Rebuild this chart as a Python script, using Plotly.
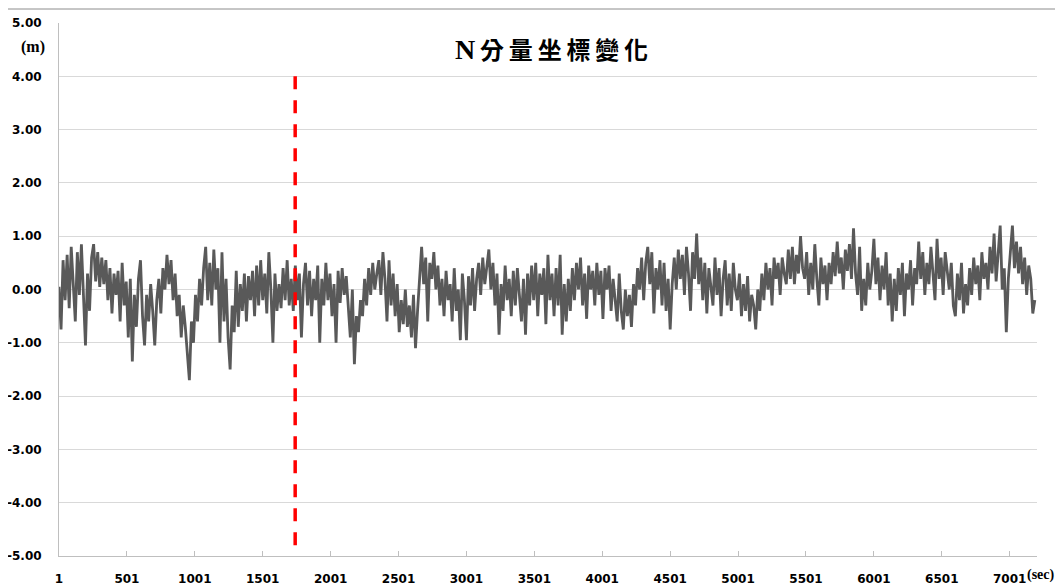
import plotly.graph_objects as go

# Sampling: one reading every 15 s starting at second 1
t_start = 1
t_step = 15

# N-component coordinate change (m) in 600 s blocks
n_0000 = [0.05, -0.75, 0.55, -0.2, 0.65, -0.35, 0.8, 0.1, -0.6, 0.7, -0.1, 0.85, 0.0,
          -1.05, 0.3, -0.4, 0.6, 0.85, 0.15, 0.7, 0.05, 0.6,
          0.1, 0.55, -0.2, 0.4, -0.45, 0.3, -0.1, 0.35, -0.6, 0.5, -0.3, 0.15, -0.9, 0.2,
          -1.35, -0.1, -0.7, 0.2]
n_0600 = [0.55, -0.5, -1.05, -0.1, -0.6, 0.1, -0.4, -1.05,
          -0.2, 0.2, -0.45, 0.4, 0.0, 0.65, 0.1, 0.55, -0.2,
          0.3, -0.5, -0.1, -0.9, -0.3,
          -0.7, -1.3, -1.7, -0.6,
          -1.0, -0.1, -0.6, 0.2, -0.3, 0.4,
          0.8, -0.2, 0.5, -0.3, 0.75, 0.0, 0.4, -1.0]
n_1200 = [0.7, -0.6, 0.2,
          -0.9, -1.5, -0.3, -0.8,
          0.35, -0.7, 0.1, -0.4, 0.3, -0.6, 0.25, -0.2, 0.35,
          -0.5, 0.45, -0.3, 0.55, -0.2, 0.3, -0.45, 0.7, 0.0, -1.0,
          0.3, -0.4, 0.1, -0.35, 0.4, -0.2, 0.55, -0.3, 0.2, -0.4,
          0.45, -0.2, 0.3, -0.9]
n_1800 = [0.1, 0.5, -0.3, 0.35, -0.5, 0.2, -0.2, 0.45,
          -1.0, 0.2, -0.3, 0.5, -0.2, 0.3, -0.5, 0.1, -1.0, 0.35, -0.25, 0.4, -0.1, 0.25,
          -0.4, -0.9, 0.0, -1.4, -0.5, -0.8,
          -0.2, -0.5, 0.2, -0.3, 0.4, -0.1, 0.5, 0.0, 0.3, 0.55, -0.1, 0.7]
n_2400 = [0.2, -0.6, 0.55, -0.3, 0.3, -0.5, 0.1,
          -0.8, -0.2, -0.65, 0.0, -0.7, -0.3, -0.9, -0.1, -1.1, -0.4,
          0.3, 0.8, 0.1, 0.6, -0.6, 0.5, 0.2, 0.7, 0.0,
          0.45, -0.3, 0.2, -0.5, 0.35, -0.2, 0.1, -0.6, 0.4, -0.4, 0.0, -0.95, 0.3, -0.2]
n_3000 = [-0.95, 0.25, -0.3,
          0.4, -0.4, 0.2, 0.5, -0.1, 0.6, 0.1, 0.45, 0.75, 0.0, 0.5,
          -0.3, 0.3, -0.85, 0.1, -0.4, 0.45, -0.2, 0.2, -0.5, 0.35, -0.3, 0.4, -0.1, -0.6, 0.2,
          -0.85, 0.3, -0.3, 0.45, -0.2, 0.5, -0.5, 0.3, -0.1, 0.4, -0.65]
n_3600 = [0.65, -0.2, 0.3, -0.5,
          0.4, -0.3, 0.65, -0.85, 0.1, -0.6, 0.2,
          -0.4, 0.4, -0.2, 0.5, 0.0, 0.6, -0.3, 0.3, -0.55, 0.45, 0.0, 0.35,
          -0.3, 0.5, -0.1, 0.35, -0.55, 0.4, 0.0, 0.45, -0.4, 0.2, -0.2,
          -0.6, 0.3, -0.4, -0.75, 0.0, -0.5]
n_4200 = [-0.1, -0.7,
          0.1, -0.3, 0.4, 0.0, 0.6, -0.2, 0.5, 0.8, 0.1, 0.7, -0.45, 0.4, 0.0, 0.55,
          -0.3, 0.5, -0.4, 0.2, -0.75, 0.1,
          0.6, 0.0, 0.75, 0.2, 0.65, -0.1, 0.8, 0.3, -0.4, 0.7, 0.2, 1.05, 0.1,
          0.6, -0.2, 0.5, -0.45, 0.4]
n_4800 = [0.1, -0.3, 0.6, -0.1, 0.4, -0.5, 0.2, 0.55, -0.3, 0.3, -0.4, 0.5, 0.0, -0.2,
          0.3, -0.5, 0.1, -0.4, 0.25, -0.6, -0.1, -0.3, -0.75, 0.0,
          -0.4, 0.3, -0.2, 0.5, 0.0, 0.4, -0.3, 0.6, 0.2, 0.5, -0.1, 0.6, 0.3, 0.1,
          0.75, 0.2]
n_5400 = [0.8, 0.1, 0.65, 0.3, 1.0, 0.4, 0.2,
          0.7, -0.1, 0.5, 0.0, 0.85, 0.2, -0.3, 0.6, 0.1, 0.45, -0.2,
          0.5, 0.1, 0.7, 0.25, 0.9, 0.3, 0.6, 0.0, 0.75, 0.35, 0.85, 0.2, 1.15,
          0.3, -0.1, 0.8, -0.4, 0.2, -0.3, 0.5, 0.0, 0.35]
n_6000 = [0.95, 0.1, 0.6, -0.2, 0.45, 0.0, 0.7, -0.3, 0.3, -0.6,
          0.2, -0.4, 0.4, -0.1, 0.5, -0.5, 0.3, 0.0, 0.55, -0.3, 0.4, 0.1, 0.9,
          0.2, 0.7, -0.1, 0.5, 0.1, 0.8, 0.3, -0.2, 0.95, 0.2, 0.6, -0.1, 0.7, 0.35, 0.0, 0.5, -0.3]
n_6600 = [-0.5, 0.3, -0.2, 0.5, -0.45, 0.1, -0.3, 0.4,
          -0.1, 0.6, 0.1, 0.45, -0.2, 0.7, 0.2, 0.5, 0.0, 0.8, 0.3, 1.05, 0.15, 0.6,
          1.2, 0.0, 0.4, -0.8, 0.2,
          0.7, 1.2, 0.4, 0.9, 0.3,
          0.8, 0.1, 0.6, -0.1, 0.45, 0.2, -0.45, -0.2]

x_ticks = [1, 501, 1001, 1501, 2001, 2501, 3001, 3501, 4001, 4501, 5001, 5501, 6001, 6501, 7001]
y_ticks = [5, 4, 3, 2, 1, 0, -1, -2, -3, -4, -5]
event_time = 1740
event_top = 4.0

values = (n_0000 + n_0600 + n_1200 + n_1800 + n_2400 + n_3000 +
          n_3600 + n_4200 + n_4800 + n_5400 + n_6000 + n_6600)
times = [t_start + t_step * i for i in range(len(values))]

# page body has an 8px margin, so the figure is drawn at (8, 8) in the window
OFF = 8
W, H = 1063 - OFF, 588 - OFF
L, R, T, B = 59 - OFF, 26, 23 - OFF, 32
pw, ph = W - L - R, H - T - B

def px(xw):
    return (xw - OFF - L) / pw

def py(yw):
    return (H - B - (yw - OFF)) / ph

fig = go.Figure()
fig.add_trace(go.Scatter(x=times, y=values, mode="lines",
                         line=dict(color="#595959", width=2.8),
                         hoverinfo="skip", showlegend=False))

fig.add_shape(type="line", xref="x", yref="y", x0=event_time, x1=event_time,
              y0=event_top, y1=-5, line=dict(color="#ff0000", width=3.5, dash="13px,11px"))

fig.add_shape(type="rect", xref="paper", yref="paper",
              x0=px(5), x1=px(1060), y0=py(9), y1=py(600),
              line=dict(color="#8c8c8c", width=1), layer="below")

tick_font = dict(family="DejaVu Sans, Verdana, sans-serif", size=12, color="#000000", weight="bold")

fig.update_layout(
    width=W, height=H,
    margin=dict(l=L, r=R, t=T, b=B, autoexpand=False),
    paper_bgcolor="white", plot_bgcolor="white",
    xaxis=dict(range=[1, 7202], tickmode="array", tickvals=x_ticks,
               ticktext=[str(v) for v in x_ticks], automargin=False,
               showgrid=False, zeroline=False,
               showline=True, linecolor="#bfbfbf", linewidth=1,
               ticks="inside", ticklen=5, tickcolor="#bfbfbf",
               tickfont=tick_font, ticklabelstandoff=12),
    yaxis=dict(range=[-5, 5], tickmode="array", tickvals=y_ticks,
               ticktext=[f"{v:.2f}" for v in y_ticks], automargin=False,
               showgrid=True, gridcolor="#d9d9d9", gridwidth=1,
               zeroline=False, showline=True, linecolor="#bfbfbf", linewidth=1,
               ticks="", tickfont=tick_font, ticklabelstandoff=14),
)

fig.add_annotation(text="<b><span style='font-size:28px'>N</span>\u2009分\u2009量\u2009坐\u2009標\u2009變\u2009化</b>",
                   xref="paper", yref="paper", x=px(551), y=py(50),
                   showarrow=False, xanchor="center", yanchor="middle",
                   font=dict(family="Liberation Serif, Noto Sans CJK TC, serif", size=24, color="#000000"))
fig.add_annotation(text="<b>(m)</b>", xref="paper", yref="paper", x=px(33), y=py(47),
                   showarrow=False, xanchor="center", yanchor="middle",
                   font=dict(family="Liberation Serif, serif", size=16, color="#000000"))
fig.add_annotation(text="<b>(sec)</b>", xref="paper", yref="paper", x=px(1057), y=py(575),
                   showarrow=False, xanchor="right", yanchor="middle",
                   font=dict(family="Liberation Serif, serif", size=14, color="#000000"))

fig.write_html("out.html")
